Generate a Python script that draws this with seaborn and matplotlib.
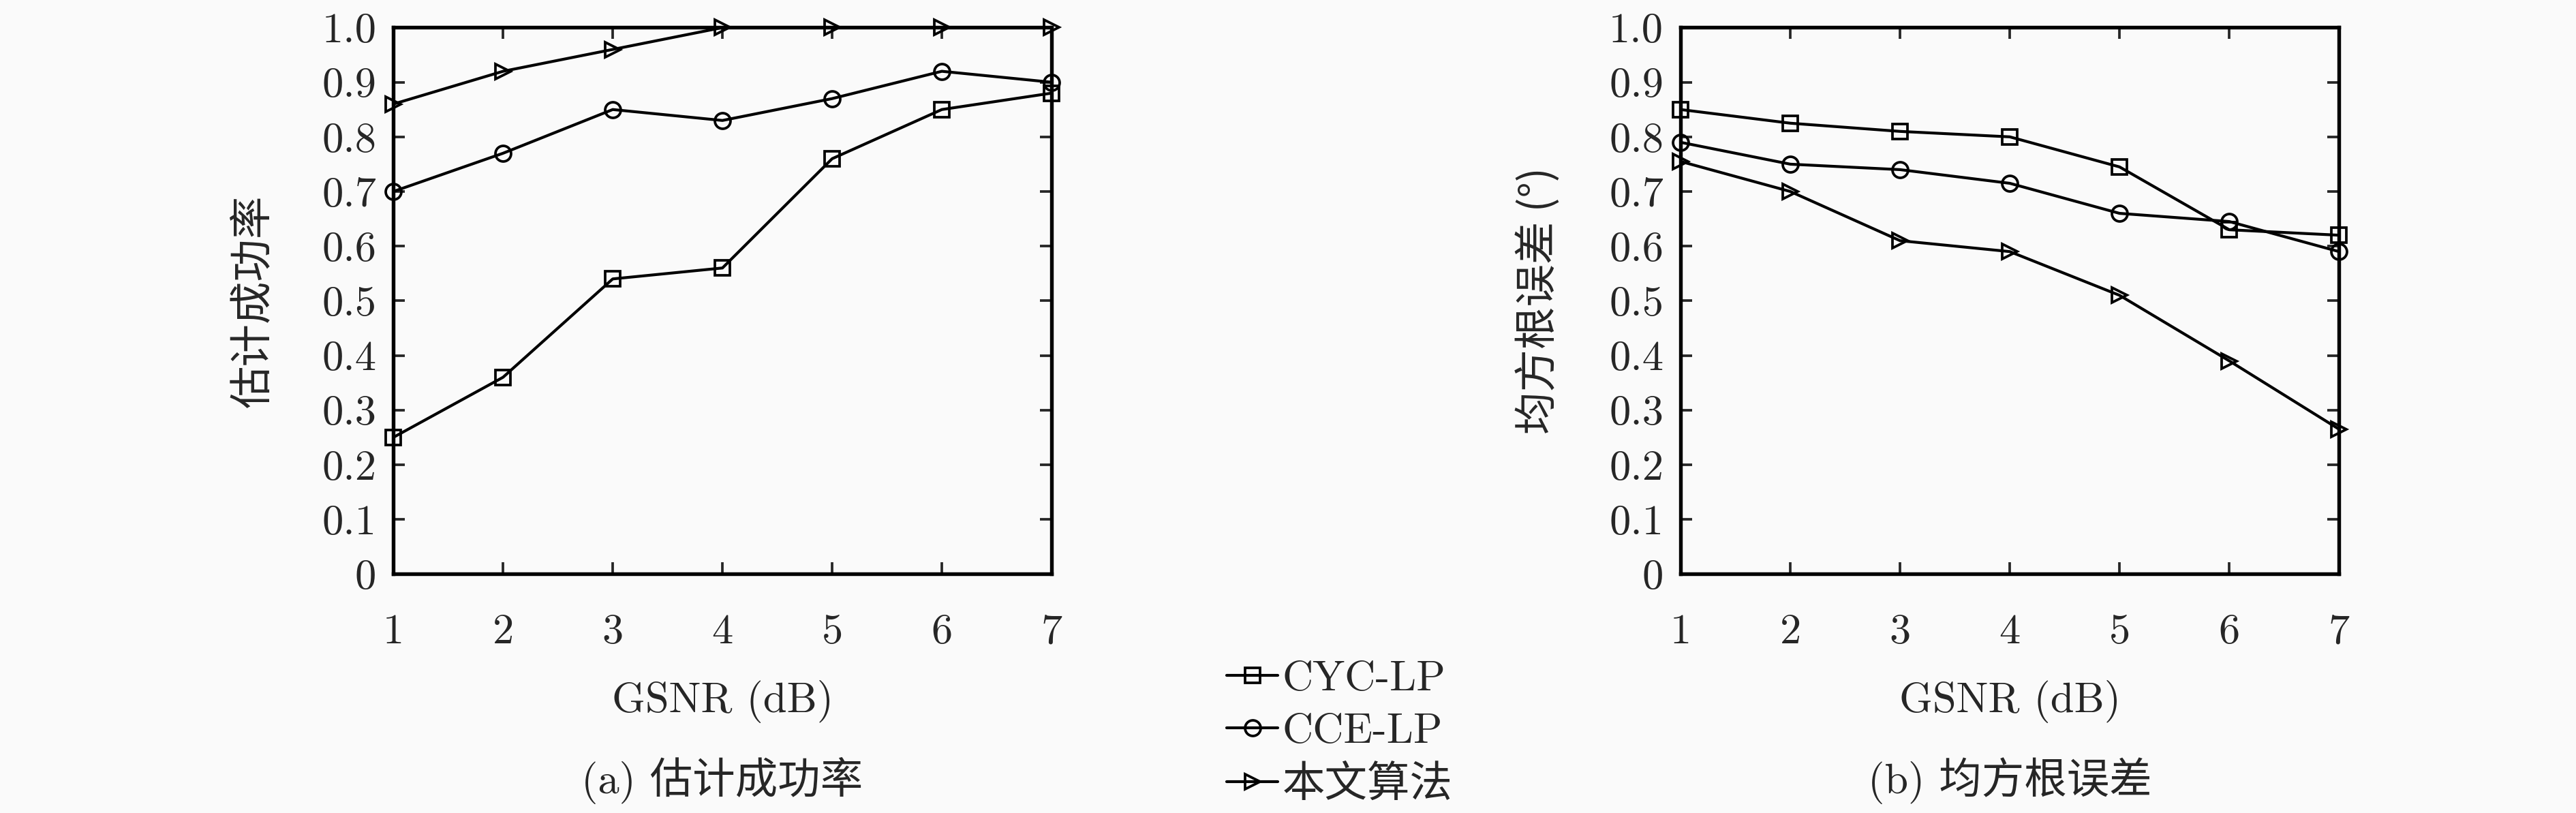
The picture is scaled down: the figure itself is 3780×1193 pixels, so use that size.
import matplotlib
matplotlib.use('Agg')
import matplotlib.pyplot as plt
import pandas as pd
import seaborn as sns
import numpy as np

# data
gsnr = [1, 2, 3, 4, 5, 6, 7]
methods = ['CYC-LP', 'CCE-LP', '本文算法']

succ_cyc = [0.25, 0.36, 0.54, 0.56, 0.76, 0.85, 0.88]
succ_cce = [0.70, 0.77, 0.85, 0.83, 0.87, 0.92, 0.90]
succ_ours = [0.86, 0.92, 0.96, 1.00, 1.00, 1.00, 1.00]

rmse_cyc = [0.85, 0.825, 0.81, 0.80, 0.745, 0.63, 0.62]
rmse_cce = [0.79, 0.75, 0.74, 0.715, 0.66, 0.645, 0.59]
rmse_ours = [0.755, 0.70, 0.61, 0.59, 0.51, 0.39, 0.265]

yticks = [0, 0.1, 0.2, 0.3, 0.4, 0.5, 0.6, 0.7, 0.8, 0.9, 1.0]
ytick_labels = ['0', '0.1', '0.2', '0.3', '0.4', '0.5', '0.6', '0.7', '0.8', '0.9', '1.0']

sns.set_style('ticks')
bg = '#fafafa'
plt.rcParams['font.family'] = ['cmr10', 'Noto Sans CJK SC', 'DejaVu Sans']
plt.rcParams['font.size'] = 15
plt.rcParams['axes.unicode_minus'] = False
plt.rcParams['figure.facecolor'] = bg
plt.rcParams['axes.facecolor'] = bg


def long_df(series):
    rows = []
    for name, vals in zip(methods, series):
        for x, v in zip(gsnr, vals):
            rows.append({'GSNR': x, 'value': v, 'method': name})
    return pd.DataFrame(rows)


df_succ = long_df([succ_cyc, succ_cce, succ_ours])
df_rmse = long_df([rmse_cyc, rmse_cce, rmse_ours])

fig = plt.figure(figsize=(12.6, 3.977), dpi=300)
ax1 = fig.add_axes([0.1527, 0.294, 0.2555, 0.672])
ax2 = fig.add_axes([0.6524, 0.294, 0.2556, 0.672])

marker_map = {'CYC-LP': 's', 'CCE-LP': 'o', '本文算法': '>'}

panels = [(ax1, df_succ, '估计成功率', ['cmr10', 'Noto Sans CJK SC'], '(a) 估计成功率'),
          (ax2, df_rmse, '均方根误差 (°)', ['Noto Sans CJK SC'], '(b) 均方根误差')]

for ax, d, ylab, yfam, sub in panels:
    sns.lineplot(data=d, x='GSNR', y='value', style='method', markers=marker_map,
                 dashes=False, color='black', ax=ax, linewidth=1.0,
                 markersize=5.5, markerfacecolor='none', markeredgecolor='black',
                 markeredgewidth=0.9, clip_on=False, legend=True)
    ax.set_xlim(1, 7)
    ax.set_ylim(0, 1.0)
    ax.set_xticks(gsnr)
    ax.set_xticklabels([str(g) for g in gsnr])
    ax.set_yticks(yticks)
    ax.set_yticklabels(ytick_labels)
    ax.tick_params(direction='in', top=True, right=True, length=4, width=0.9,
                   labelsize=15)
    ax.tick_params(axis='x', pad=14)
    ax.tick_params(axis='y', pad=6)
    for s in ax.spines.values():
        s.set_linewidth(1.3)
        s.set_color('black')
    ax.set_xlabel('GSNR (dB)', fontsize=15, labelpad=10)
    ax.set_ylabel(ylab, fontsize=15, labelpad=17, family=yfam)
    pos = ax.get_position()
    fig.text((pos.x0 + pos.x1) / 2, 0.04, sub, ha='center', va='center',
             fontsize=15)

handles, labels = ax1.get_legend_handles_labels()
ax1.get_legend().remove()
ax2.get_legend().remove()
fig.legend(handles, labels, loc='center left', bbox_to_anchor=(0.468, 0.099),
           frameon=False, fontsize=15, handlelength=1.2, handletextpad=0.1,
           labelspacing=0.33, borderpad=0)

fig.savefig('out.png', dpi=300, facecolor=bg)
